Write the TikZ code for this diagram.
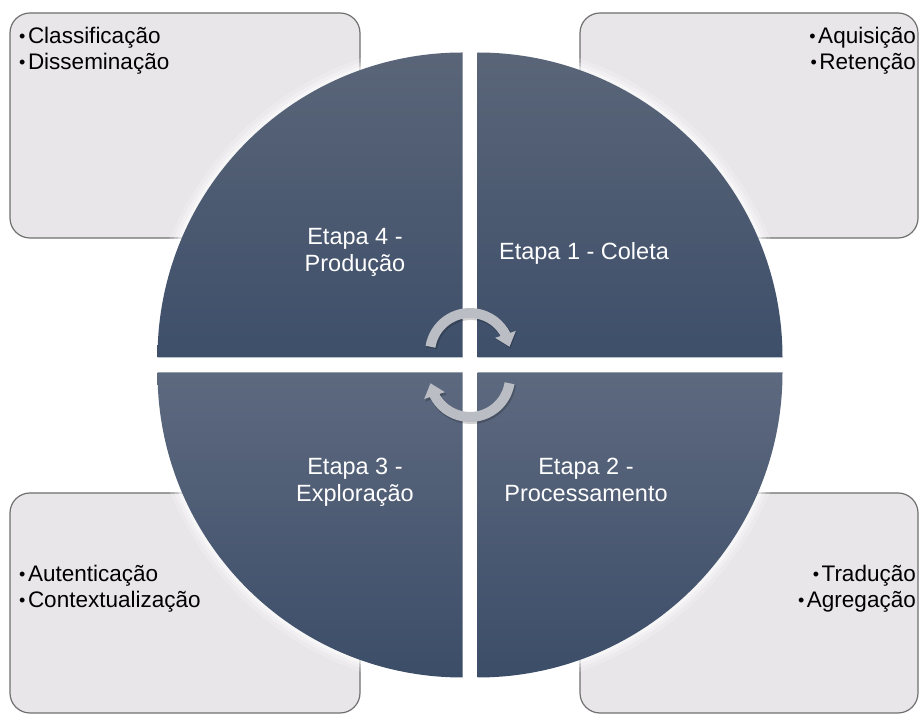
\documentclass[tikz,border=0pt]{standalone}
\usepackage{fontspec}
\setmainfont{Liberation Sans}
\usetikzlibrary{arrows.meta,bending,calc}
\definecolor{boxfill}{RGB}{232,230,232}
\definecolor{boxline}{RGB}{112,112,112}
\definecolor{qtopA}{RGB}{90,101,120}
\definecolor{qbotA}{RGB}{62,79,106}
\definecolor{qtopB}{RGB}{93,105,127}
\definecolor{qbotB}{RGB}{60,77,104}
\definecolor{arrowgray}{RGB}{186,189,196}
\newcommand{\bulletmark}{\raisebox{1.2pt}{\fontsize{18}{18}\selectfont •}\kern2.5pt}
\begin{document}
\begin{tikzpicture}[x=1pt,y=1pt,
 infobox/.style={draw=boxline, line width=1.2pt, fill=boxfill, rounded corners=20pt, inner sep=0pt},
 itemtext/.style={inner sep=0pt, text=black, font=\fontsize{22.5}{26}\selectfont},
 stagetext/.style={inner sep=0pt, text=white, align=center, anchor=north, font=\fontsize{23.5}{27}\selectfont},
 halo/.style={draw=white, line cap=butt},
 cyclearrow/.style={draw=arrowgray, line width=10pt, -{Triangle[width=21pt,length=13pt,flex]}},
 cycleshadow/.style={draw=black, opacity=0.18, line width=11pt, -{Triangle[width=22pt,length=14pt,flex]}}
]
\useasboundingbox (0,0) rectangle (919,715);
\fill[white] (0,0) rectangle (919,715);

% side boxes
\node[infobox, minimum width=350pt, minimum height=225pt] (box4) at (185,589.5) {};
\node[infobox, minimum width=338pt, minimum height=225pt] (box1) at (749,589.5) {};
\node[infobox, minimum width=350pt, minimum height=220pt] (box3) at (185,112) {};
\node[infobox, minimum width=338pt, minimum height=220pt] (box2) at (749,112) {};

% corners of the quadrants
\coordinate (c4) at (462.5,357.5);
\coordinate (c1) at (477.5,357.5);
\coordinate (c2) at (477.5,342.5);
\coordinate (c3) at (462.5,342.5);

% soft white halo round the disc
\foreach \w/\o in {22/0.18, 14/0.28, 7/0.45}{
  \draw[halo, line width=\w pt, opacity=\o]
    ($(c4)+(-305,0)$) arc[start angle=180,end angle=90,radius=305];
  \draw[halo, line width=\w pt, opacity=\o]
    ($(c1)+(0,305)$) arc[start angle=90,end angle=0,radius=305];
  \draw[halo, line width=\w pt, opacity=\o]
    ($(c2)+(305,0)$) arc[start angle=0,end angle=-90,radius=305];
  \draw[halo, line width=\w pt, opacity=\o]
    ($(c3)+(0,-305)$) arc[start angle=270,end angle=180,radius=305];
}

% quadrants
\shade[top color=qtopA, bottom color=qbotA]
  (c4) -- ++(-305,0) arc[start angle=180,end angle=90,radius=305] -- cycle;
\shade[top color=qtopA, bottom color=qbotA]
  (c1) -- ++(0,305) arc[start angle=90,end angle=0,radius=305] -- cycle;
\shade[top color=qtopB, bottom color=qbotB]
  (c2) -- ++(305,0) arc[start angle=0,end angle=-90,radius=305] -- cycle;
\shade[top color=qtopB, bottom color=qbotB]
  (c3) -- ++(0,-305) arc[start angle=270,end angle=180,radius=305] -- cycle;

% cycle arrows
\coordinate (ta) at (470,362);
\coordinate (ba) at (470,338);
\draw[cycleshadow] ($(ta)+(171:40)+(1,-1.5)$) arc[start angle=171,end angle=9,radius=40];
\draw[cycleshadow] ($(ba)+(-9:40)+(1,-1.5)$) arc[start angle=-9,end angle=-171,radius=40];
\draw[cyclearrow] ($(ta)+(171:40)$) arc[start angle=171,end angle=9,radius=40];
\draw[cyclearrow] ($(ba)+(-9:40)$) arc[start angle=-9,end angle=-171,radius=40];

% stage labels
\node[stagetext] (s4) at (355,487) {Etapa 4 -\\Produção};
\node[stagetext] (s1) at (584,473) {Etapa 1 - Coleta};
\node[stagetext] (s3) at (355,257) {Etapa 3 -\\Exploração};
\node[stagetext] (s2) at (586,257) {Etapa 2 -\\Processamento};

% box texts
\node[itemtext, anchor=north west, align=left] (t4) at (19,688) {\bulletmark Classificação\\\bulletmark Disseminação};
\node[itemtext, anchor=north east, align=right] (t1) at (916,688) {\bulletmark Aquisição\\\bulletmark Retenção};
\node[itemtext, anchor=north west, align=left] (t3) at (19,150) {\bulletmark Autenticação\\\bulletmark Contextualização};
\node[itemtext, anchor=north east, align=right] (t2) at (916,150) {\bulletmark Tradução\\\bulletmark Agregação};
\end{tikzpicture}
\end{document}
